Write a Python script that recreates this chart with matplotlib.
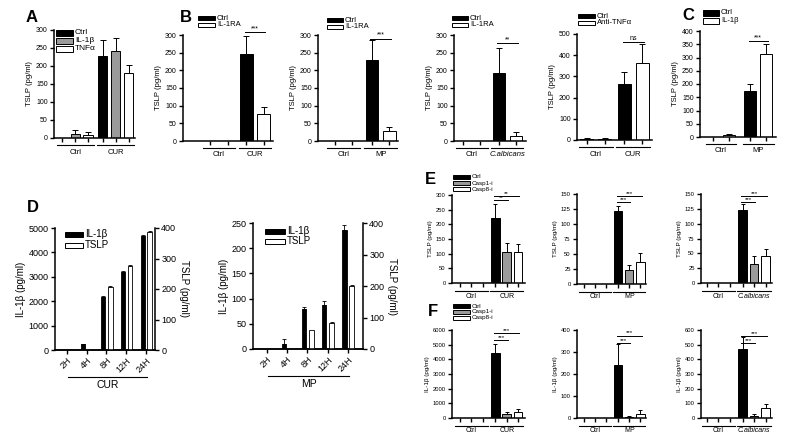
import numpy as np
import matplotlib
matplotlib.use('Agg')
import matplotlib.pyplot as plt
import matplotlib.transforms as mtransforms
from matplotlib.patches import Rectangle

plt.rcParams['font.family'] = ['Liberation Sans', 'DejaVu Sans']
plt.rcParams['axes.linewidth'] = 1.1

W, H = 800, 445
BLACK, GRAY, WHITE = '#000000', '#9a9a9a', '#ffffff'

# ---------------- data ----------------
# Panel A
a_groups = ['Ctrl', 'CUR']
a_labels = ['Ctrl', 'IL-1β', 'TNFα']
a_ctrl = [0, 228]; a_ctrl_err = [0, 45]
a_il1b = [10, 243]; a_il1b_err = [13, 35]
a_tnfa = [8, 180]; a_tnfa_err = [10, 22]

# Panel B
b1_groups = ['Ctrl', 'CUR']
b1_ctrl = [0, 245]; b1_ctrl_err = [0, 52]
b1_ra = [0, 77]; b1_ra_err = [0, 20]
b2_groups = ['Ctrl', 'MP']
b2_ctrl = [0, 230]; b2_ctrl_err = [0, 55]
b2_ra = [0, 27]; b2_ra_err = [0, 12]
b3_groups = ['Ctrl', 'C.albicans']
b3_ctrl = [0, 193]; b3_ctrl_err = [0, 70]
b3_ra = [0, 15]; b3_ra_err = [0, 10]
b4_groups = ['Ctrl', 'CUR']
b4_ctrl = [5, 263]; b4_ctrl_err = [3, 60]
b4_anti = [5, 365]; b4_anti_err = [3, 90]

# Panel C
c_groups = ['Ctrl', 'MP']
c_ctrl = [0, 175]; c_ctrl_err = [0, 25]
c_il1b = [8, 315]; c_il1b_err = [4, 37]

# Panel D
d_times = ['2H', '4H', '8H', '12H', '24H']
d_cur_il1b = [0, 243, 2190, 3200, 4667]
d_cur_il1b_err = [0, 20, 30, 50, 50]
d_cur_tslp = [0, 0, 207, 277, 388]
d_cur_tslp_err = [0, 0, 3, 3, 3]
d_mp_il1b = [0, 10, 79, 88, 237]
d_mp_il1b_err = [0, 10, 4, 7, 10]
d_mp_tslp = [0, 0, 59, 84, 200]
d_mp_tslp_err = [0, 0, 0, 2, 2]

# Panel E (TSLP)
e_labels = ['Ctrl', 'Casp1-i', 'Casp8-i']
e1_groups = ['Ctrl', 'CUR']
e1_ctrl = [0, 222]; e1_ctrl_err = [0, 46]
e1_c1 = [0, 104]; e1_c1_err = [0, 33]
e1_c8 = [0, 104]; e1_c8_err = [0, 29]
e2_groups = ['Ctrl', 'MP']
e2_ctrl = [0, 122]; e2_ctrl_err = [0, 8]
e2_c1 = [0, 24]; e2_c1_err = [0, 8]
e2_c8 = [0, 37]; e2_c8_err = [0, 14]
e3_groups = ['Ctrl', 'C.albicans']
e3_ctrl = [0, 123]; e3_ctrl_err = [0, 10]
e3_c1 = [0, 32]; e3_c1_err = [0, 14]
e3_c8 = [0, 46]; e3_c8_err = [0, 12]

# Panel F (IL-1β)
f1_ctrl = [0, 4400]; f1_ctrl_err = [0, 650]
f1_c1 = [0, 280]; f1_c1_err = [0, 130]
f1_c8 = [0, 380]; f1_c8_err = [0, 250]
f2_ctrl = [0, 240]; f2_ctrl_err = [0, 95]
f2_c1 = [0, 5]; f2_c1_err = [0, 5]
f2_c8 = [0, 20]; f2_c8_err = [0, 18]
f3_ctrl = [0, 470]; f3_ctrl_err = [0, 80]
f3_c1 = [0, 15]; f3_c1_err = [0, 10]
f3_c8 = [0, 65]; f3_c8_err = [0, 30]

fig = plt.figure(figsize=(8, 4.45), dpi=100)


def rect(x0, ytop, x1, ybot):
    return [x0 / W, 1 - ybot / H, (x1 - x0) / W, (ybot - ytop) / H]


def down(ax, px):
    return ax.get_xaxis_transform() + mtransforms.ScaledTranslation(0, -px / 100, fig.dpi_scale_trans)


def bar_panel(box, groups, series, ylim, yticks, ylabel, lpad, rpad, gap=0.15, width=0.72,
              fs_tick=5, fs_lab=5.5, fs_grp=5.5, offs=(7, 14), sigs=(), fs_sig=5, cap=2):
    ax = fig.add_axes(rect(*box))
    n = len(series)
    allx = []
    for i, (vals, errs, col) in enumerate(series):
        xs = np.array([g * (n + gap) + i for g in range(len(groups))])
        allx += list(xs)
        ax.bar(xs, vals, width, color=col, edgecolor='black', linewidth=0.7, zorder=2)
        v = np.array(vals, float); e = np.array(errs, float)
        m = e > 0
        ax.errorbar(xs[m], v[m], yerr=[np.zeros(m.sum()), e[m]], fmt='none', ecolor='black',
                    elinewidth=0.7, capsize=cap, capthick=0.7, zorder=1)
    allx = sorted(allx)
    ax.set_xlim(-lpad, allx[-1] + rpad)
    ax.set_ylim(*ylim)
    ax.set_yticks(yticks)
    ax.set_xticks(allx)
    ax.set_xticklabels([])
    for s in ['top', 'right']:
        ax.spines[s].set_visible(False)
    ax.tick_params(axis='both', direction='out', length=3, width=1, labelsize=fs_tick, pad=1.5)
    ax.set_ylabel(ylabel, fontsize=fs_lab, labelpad=2)
    for g, name in enumerate(groups):
        x0 = g * (n + gap) - 0.45
        x1 = g * (n + gap) + n - 1 + 0.45
        ax.plot([x0, x1], [0, 0], color='black', lw=0.8, transform=down(ax, offs[0]), clip_on=False)
        style = 'italic' if name.startswith('C.') else 'normal'
        ax.text((x0 + x1) / 2, 0, name, transform=down(ax, offs[1]), ha='center', va='center',
                fontsize=fs_grp, style=style)
    for (g, i0, i1, y, txt) in sigs:
        xa = g * (n + gap) + i0
        xb = g * (n + gap) + i1
        ax.plot([xa - 0.1, xb + 0.1], [y, y], color='black', lw=0.7, clip_on=False)
        ax.text((xa + xb) / 2, y, txt, ha='center', va='bottom', fontsize=fs_sig, clip_on=False)
    return ax


def legend_px(x, y0, dy, entries, pw=17, ph=5, fs=6):
    for k, (lab, col) in enumerate(entries):
        yc = y0 + k * dy
        fig.patches.append(Rectangle((x / W, 1 - (yc + ph / 2) / H), pw / W, ph / H,
                                     transform=fig.transFigure, facecolor=col,
                                     edgecolor='black', linewidth=0.7))
        fig.text((x + pw + 2) / W, 1 - yc / H, lab, fontsize=fs, va='center', ha='left')


def letter(x, y, s):
    fig.text(x / W, 1 - y / H, s, fontsize=12, fontweight='bold', ha='center', va='center')


# ---------------- Panel A ----------------
bar_panel((54, 30, 135, 138), a_groups,
          [(a_ctrl, a_ctrl_err, BLACK), (a_il1b, a_il1b_err, GRAY), (a_tnfa, a_tnfa_err, WHITE)],
          (0, 300), range(0, 301, 50), 'TSLP (pg/ml)', lpad=0.65, rpad=0.5, gap=0.15)
legend_px(56, 33, 8, list(zip(a_labels, [BLACK, GRAY, WHITE])), pw=17, ph=5, fs=6)
letter(32, 18, 'A')

# ---------------- Panel B ----------------
bar_panel((183, 35, 273, 141), b1_groups,
          [(b1_ctrl, b1_ctrl_err, BLACK), (b1_ra, b1_ra_err, WHITE)],
          (0, 300), range(0, 301, 50), 'TSLP (pg/ml)', lpad=1.6, rpad=0.55, gap=0.1,
          sigs=[(1, 0, 1, 308, '***')])
legend_px(198, 18, 7, [('Ctrl', BLACK), ('IL-1RA', WHITE)], pw=17, ph=4.5, fs=5.5)
letter(186, 18, 'B')

bar_panel((318, 35, 398, 141), b2_groups,
          [(b2_ctrl, b2_ctrl_err, BLACK), (b2_ra, b2_ra_err, WHITE)],
          (0, 300), range(0, 301, 50), 'TSLP (pg/ml)', lpad=1.0, rpad=0.5, gap=0.15,
          sigs=[(1, 0, 1, 289, '***')])
legend_px(327, 20, 7, [('Ctrl', BLACK), ('IL-1RA', WHITE)], pw=16, ph=4.5, fs=5.5)

bar_panel((454, 35, 526, 141), b3_groups,
          [(b3_ctrl, b3_ctrl_err, BLACK), (b3_ra, b3_ra_err, WHITE)],
          (0, 300), range(0, 301, 50), 'TSLP (pg/ml)', lpad=0.55, rpad=0.6, gap=0.1,
          sigs=[(1, 0, 1, 277, '**')])
legend_px(452, 18, 7, [('Ctrl', BLACK), ('IL-1RA', WHITE)], pw=16, ph=4.5, fs=5.5)

bar_panel((577, 34, 652, 140), b4_groups,
          [(b4_ctrl, b4_ctrl_err, BLACK), (b4_anti, b4_anti_err, WHITE)],
          (0, 500), range(0, 501, 100), 'TSLP (pg/ml)', lpad=0.55, rpad=0.55, gap=0.1,
          sigs=[(1, 0, 1, 462, 'ns')])
legend_px(578, 16, 7, [('Ctrl', BLACK), ('Anti-TNFα', WHITE)], pw=17, ph=4.5, fs=5.5)

# ---------------- Panel C ----------------
bar_panel((700, 31, 776, 137), c_groups,
          [(c_ctrl, c_ctrl_err, BLACK), (c_il1b, c_il1b_err, WHITE)],
          (0, 400), range(0, 401, 50), 'TSLP (pg/ml)', lpad=0.8, rpad=0.6, gap=0.3,
          sigs=[(1, 0, 1, 362, '***')])
legend_px(703, 13, 8, [('Ctrl', BLACK), ('IL-1β', WHITE)], pw=16, ph=5, fs=5.5)
letter(688, 16, 'C')


# ---------------- Panel D ----------------
def time_panel(box, il, il_err, ts, ts_err, il_max, il_step, lpad, rpad, group):
    ax = fig.add_axes(rect(*box))
    ax2 = ax.twinx()
    x = np.arange(len(d_times))
    ax.bar(x - 0.17, il, 0.22, color=BLACK, edgecolor='black', linewidth=0.6, zorder=2)
    e = np.array(il_err, float); m = e > 0
    ax.errorbar(x[m] - 0.17, np.array(il, float)[m], yerr=[np.zeros(m.sum()), e[m]], fmt='none',
                ecolor='black', elinewidth=0.6, capsize=1.2, capthick=0.6, zorder=1)
    ax2.bar(x + 0.19, ts, 0.24, color=WHITE, edgecolor='black', linewidth=0.6, zorder=2)
    e2 = np.array(ts_err, float); m2 = e2 > 0
    ax2.errorbar(x[m2] + 0.19, np.array(ts, float)[m2], yerr=[np.zeros(m2.sum()), e2[m2]],
                 fmt='none', ecolor='black', elinewidth=0.6, capsize=1.2, capthick=0.6, zorder=1)
    ax.set_xlim(-lpad, len(d_times) - 1 + rpad)
    ax.set_ylim(0, il_max)
    ax.set_yticks(np.arange(0, il_max + 1, il_step))
    ax2.set_ylim(0, 400)
    ax2.set_yticks(range(0, 401, 100))
    ax.set_xticks(x)
    ax.set_xticklabels(d_times, rotation=45, ha='right', rotation_mode='anchor', fontsize=6.5)
    ax.spines['top'].set_visible(False)
    ax.spines['right'].set_visible(False)
    ax2.spines['top'].set_visible(False)
    ax2.spines['left'].set_visible(False)
    ax.tick_params(axis='both', direction='out', length=3, width=1, labelsize=6.5, pad=1.5)
    ax2.tick_params(axis='y', direction='out', length=3, width=1, labelsize=6.5, pad=1.5)
    ax.set_ylabel('IL-1β (pg/ml)', fontsize=7, labelpad=2)
    ax2.set_ylabel('TSLP (pg/ml)', fontsize=7, rotation=270, labelpad=9)
    ax.plot([0.05, len(d_times) - 1 + 0.05], [0, 0], color='black', lw=0.8,
            transform=down(ax, 27), clip_on=False)
    ax.text((len(d_times) - 1) / 2 + 0.05, 0, group, transform=down(ax, 35), ha='center',
            va='center', fontsize=7.5)
    return ax


time_panel((55, 228, 155, 350), d_cur_il1b, d_cur_il1b_err, d_cur_tslp, d_cur_tslp_err,
           5000, 1000, lpad=0.6, rpad=0.45, group='CUR')
legend_px(65, 234, 11, [('IL-1β', BLACK), ('TSLP', WHITE)], pw=18, ph=5, fs=7)
letter(33, 207, 'D')

time_panel((253, 223, 363, 349), d_mp_il1b, d_mp_il1b_err, d_mp_tslp, d_mp_tslp_err,
           250, 50, lpad=0.7, rpad=0.75, group='MP')
legend_px(265, 231, 10, [('IL-1β', BLACK), ('TSLP', WHITE)], pw=20, ph=5, fs=7)

# ---------------- Panel E ----------------
ekw = dict(fs_tick=4.2, fs_lab=4.5, fs_grp=5, offs=(8, 13), fs_sig=4.5, cap=1.5, width=0.75, gap=0.1)
bar_panel((452, 195, 525, 283), e1_groups,
          [(e1_ctrl, e1_ctrl_err, BLACK), (e1_c1, e1_c1_err, GRAY), (e1_c8, e1_c8_err, WHITE)],
          (0, 300), range(0, 301, 50), 'TSLP (pg/ml)', lpad=0.7, rpad=0.6,
          sigs=[(1, 0, 1, 282, '**'), (1, 0, 2, 296, '**')], **ekw)
bar_panel((577, 194, 646, 284), e2_groups,
          [(e2_ctrl, e2_ctrl_err, BLACK), (e2_c1, e2_c1_err, GRAY), (e2_c8, e2_c8_err, WHITE)],
          (0, 150), range(0, 151, 25), 'TSLP (pg/ml)', lpad=0.6, rpad=0.5,
          sigs=[(1, 0, 1, 137, '***'), (1, 0, 2, 147, '***')], **ekw)
bar_panel((701, 194, 772, 283), e3_groups,
          [(e3_ctrl, e3_ctrl_err, BLACK), (e3_c1, e3_c1_err, GRAY), (e3_c8, e3_c8_err, WHITE)],
          (0, 150), range(0, 151, 25), 'TSLP (pg/ml)', lpad=0.5, rpad=0.55,
          sigs=[(1, 0, 1, 137, '***'), (1, 0, 2, 147, '***')], **ekw)
legend_px(453, 177, 6, list(zip(e_labels, [BLACK, GRAY, WHITE])), pw=17, ph=4, fs=4.5)
letter(430, 179, 'E')

# ---------------- Panel F ----------------
bar_panel((452, 330, 525, 418), e1_groups,
          [(f1_ctrl, f1_ctrl_err, BLACK), (f1_c1, f1_c1_err, GRAY), (f1_c8, f1_c8_err, WHITE)],
          (0, 6000), range(0, 6001, 1000), 'IL-1β (pg/ml)', lpad=0.7, rpad=0.6,
          sigs=[(1, 0, 1, 5300, '***'), (1, 0, 2, 5800, '***')], **ekw)
bar_panel((577, 330, 646, 418), e2_groups,
          [(f2_ctrl, f2_ctrl_err, BLACK), (f2_c1, f2_c1_err, GRAY), (f2_c8, f2_c8_err, WHITE)],
          (0, 400), range(0, 401, 100), 'IL-1β (pg/ml)', lpad=0.6, rpad=0.5,
          sigs=[(1, 0, 1, 340, '***'), (1, 0, 2, 375, '***')], **ekw)
bar_panel((701, 330, 772, 418), e3_groups,
          [(f3_ctrl, f3_ctrl_err, BLACK), (f3_c1, f3_c1_err, GRAY), (f3_c8, f3_c8_err, WHITE)],
          (0, 600), range(0, 601, 100), 'IL-1β (pg/ml)', lpad=0.5, rpad=0.55,
          sigs=[(1, 0, 1, 510, '***'), (1, 0, 2, 560, '***')], **ekw)
legend_px(453, 306, 6, list(zip(e_labels, [BLACK, GRAY, WHITE])), pw=17, ph=4, fs=4.5)
letter(433, 312, 'F')

fig.savefig('out.png', dpi=100)
